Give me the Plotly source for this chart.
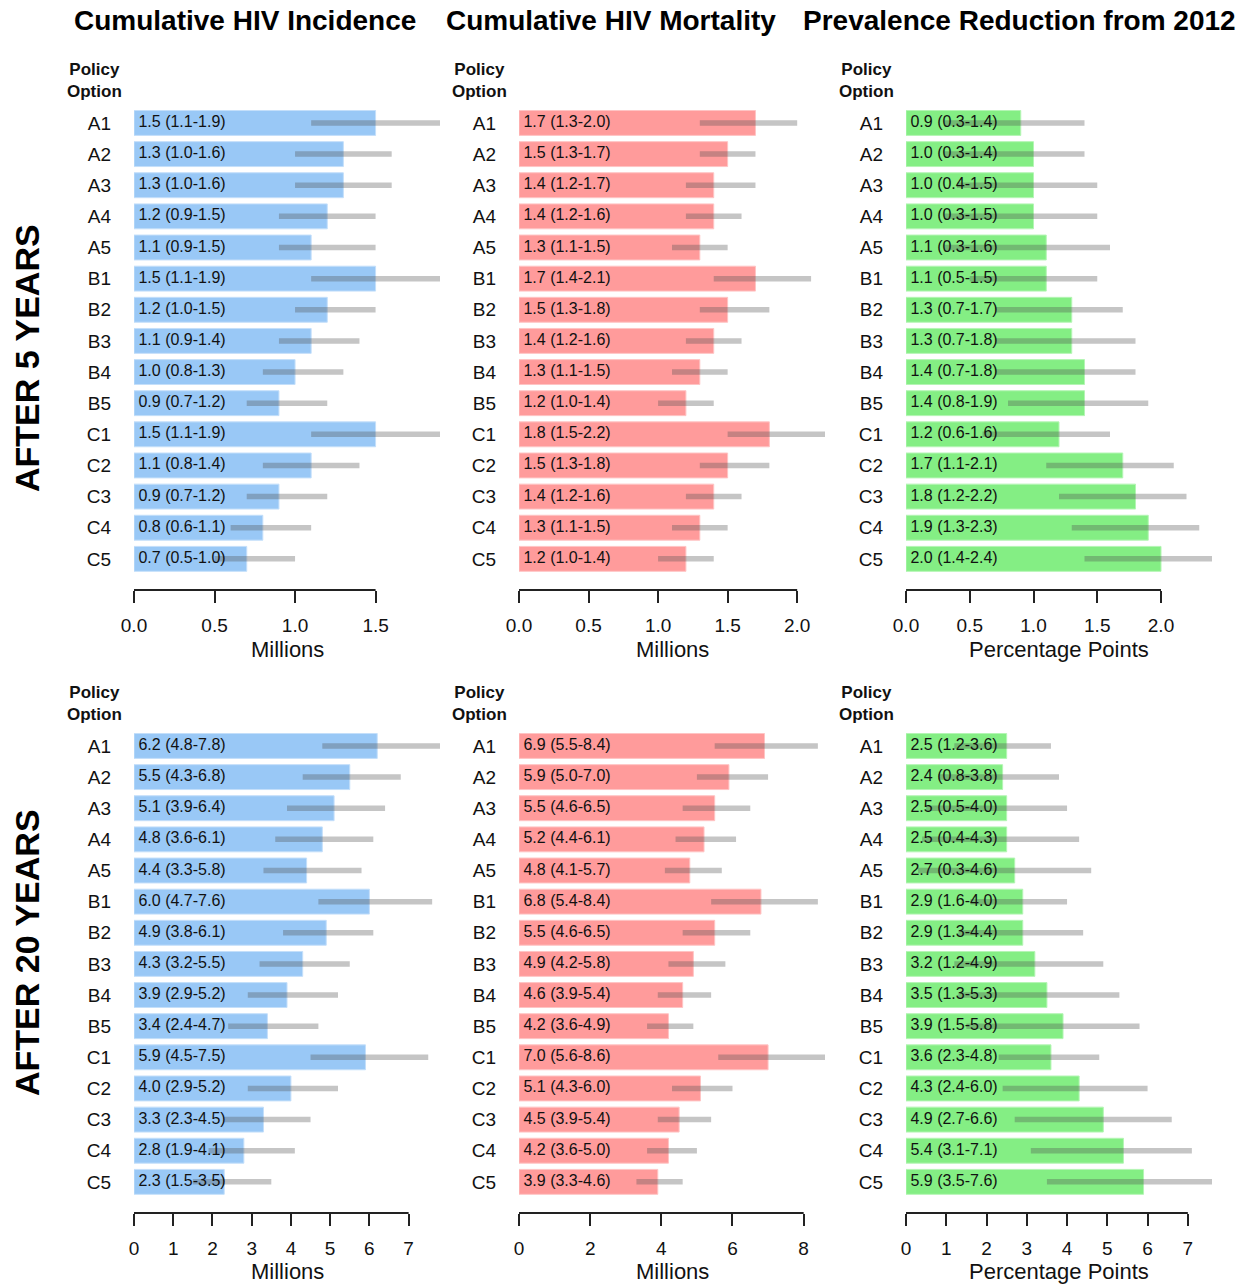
import plotly.graph_objects as go

W, H = 1250, 1284

options = ["A1", "A2", "A3", "A4", "A5", "B1", "B2", "B3", "B4", "B5",
           "C1", "C2", "C3", "C4", "C5"]

# ---- after 5 years ----
inc5 = [1.5, 1.3, 1.3, 1.2, 1.1, 1.5, 1.2, 1.1, 1.0, 0.9, 1.5, 1.1, 0.9, 0.8, 0.7]
inc5_lo = [1.1, 1.0, 1.0, 0.9, 0.9, 1.1, 1.0, 0.9, 0.8, 0.7, 1.1, 0.8, 0.7, 0.6, 0.5]
inc5_hi = [1.9, 1.6, 1.6, 1.5, 1.5, 1.9, 1.5, 1.4, 1.3, 1.2, 1.9, 1.4, 1.2, 1.1, 1.0]

mort5 = [1.7, 1.5, 1.4, 1.4, 1.3, 1.7, 1.5, 1.4, 1.3, 1.2, 1.8, 1.5, 1.4, 1.3, 1.2]
mort5_lo = [1.3, 1.3, 1.2, 1.2, 1.1, 1.4, 1.3, 1.2, 1.1, 1.0, 1.5, 1.3, 1.2, 1.1, 1.0]
mort5_hi = [2.0, 1.7, 1.7, 1.6, 1.5, 2.1, 1.8, 1.6, 1.5, 1.4, 2.2, 1.8, 1.6, 1.5, 1.4]

prev5 = [0.9, 1.0, 1.0, 1.0, 1.1, 1.1, 1.3, 1.3, 1.4, 1.4, 1.2, 1.7, 1.8, 1.9, 2.0]
prev5_lo = [0.3, 0.3, 0.4, 0.3, 0.3, 0.5, 0.7, 0.7, 0.7, 0.8, 0.6, 1.1, 1.2, 1.3, 1.4]
prev5_hi = [1.4, 1.4, 1.5, 1.5, 1.6, 1.5, 1.7, 1.8, 1.8, 1.9, 1.6, 2.1, 2.2, 2.3, 2.4]

# ---- after 20 years ----
inc20 = [6.2, 5.5, 5.1, 4.8, 4.4, 6.0, 4.9, 4.3, 3.9, 3.4, 5.9, 4.0, 3.3, 2.8, 2.3]
inc20_lo = [4.8, 4.3, 3.9, 3.6, 3.3, 4.7, 3.8, 3.2, 2.9, 2.4, 4.5, 2.9, 2.3, 1.9, 1.5]
inc20_hi = [7.8, 6.8, 6.4, 6.1, 5.8, 7.6, 6.1, 5.5, 5.2, 4.7, 7.5, 5.2, 4.5, 4.1, 3.5]

mort20 = [6.9, 5.9, 5.5, 5.2, 4.8, 6.8, 5.5, 4.9, 4.6, 4.2, 7.0, 5.1, 4.5, 4.2, 3.9]
mort20_lo = [5.5, 5.0, 4.6, 4.4, 4.1, 5.4, 4.6, 4.2, 3.9, 3.6, 5.6, 4.3, 3.9, 3.6, 3.3]
mort20_hi = [8.4, 7.0, 6.5, 6.1, 5.7, 8.4, 6.5, 5.8, 5.4, 4.9, 8.6, 6.0, 5.4, 5.0, 4.6]

prev20 = [2.5, 2.4, 2.5, 2.5, 2.7, 2.9, 2.9, 3.2, 3.5, 3.9, 3.6, 4.3, 4.9, 5.4, 5.9]
prev20_lo = [1.2, 0.8, 0.5, 0.4, 0.3, 1.6, 1.3, 1.2, 1.3, 1.5, 2.3, 2.4, 2.7, 3.1, 3.5]
prev20_hi = [3.6, 3.8, 4.0, 4.3, 4.6, 4.0, 4.4, 4.9, 5.3, 5.8, 4.8, 6.0, 6.6, 7.1, 7.6]

column_titles = ["Cumulative HIV Incidence", "Cumulative HIV Mortality",
                 "Prevalence Reduction from 2012"]
row_titles = ["AFTER 5 YEARS", "AFTER 20 YEARS"]
unit_labels = ["Millions", "Millions", "Percentage Points"]

tick_sets = [
    [[0, 0.5, 1.0, 1.5], [0, 0.5, 1.0, 1.5, 2.0], [0, 0.5, 1.0, 1.5, 2.0]],
    [[0, 1, 2, 3, 4, 5, 6, 7], [0, 2, 4, 6, 8], [0, 1, 2, 3, 4, 5, 6, 7]],
]
tick_formats = [".1f", "d"]

panels = [
    [(inc5, inc5_lo, inc5_hi), (mort5, mort5_lo, mort5_hi), (prev5, prev5_lo, prev5_hi)],
    [(inc20, inc20_lo, inc20_hi), (mort20, mort20_lo, mort20_hi), (prev20, prev20_lo, prev20_hi)],
]

bar_colors = ["#99C8F6", "#FF9B9B", "#84EE84"]
bar_edges = ["#C4DFFA", "#FFC4C4", "#B4F5B4"]
ci_color = "rgba(80,80,80,0.33)"

FONT = "Liberation Sans, Arial, sans-serif"
TXT = "#111111"


def fx(p):
    return p / W


def fy(p):
    return 1 - p / H


col_x0 = [134, 519, 906]
panel_w = 306
row_top = [107.4, 730.4]
row_bot = [590.0, 1213.0]

fig = go.Figure()
layout = {}
shapes = []
annotations = []

k = 0
for r in range(2):
    for c in range(3):
        k += 1
        sfx = "" if k == 1 else str(k)
        xa, ya = "x" + sfx, "y" + sfx
        vals, lo, hi = panels[r][c]
        xmax = max(hi)

        fig.add_trace(go.Bar(
            x=vals, y=options, orientation="h", width=0.8,
            marker=dict(color=bar_colors[c], line=dict(color=bar_edges[c], width=1)),
            xaxis=xa, yaxis=ya, showlegend=False, hoverinfo="skip",
        ))

        cx, cy = [], []
        for o, a, b in zip(options, lo, hi):
            cx += [a, b, None]
            cy += [o, o, None]
        fig.add_trace(go.Scatter(
            x=cx, y=cy, mode="lines", line=dict(color=ci_color, width=5.5),
            xaxis=xa, yaxis=ya, showlegend=False, hoverinfo="skip",
        ))

        labels = [f" {v:.1f} ({a:.1f}-{b:.1f})" for v, a, b in zip(vals, lo, hi)]
        fig.add_trace(go.Scatter(
            x=[0] * len(options), y=options, mode="text", text=labels,
            textposition="middle right",
            textfont=dict(family=FONT, size=16, color=TXT),
            xaxis=xa, yaxis=ya, showlegend=False, hoverinfo="skip",
        ))

        ticks = tick_sets[r][c]
        layout["xaxis" + sfx] = dict(
            domain=[fx(col_x0[c]), fx(col_x0[c] + panel_w)],
            range=[0, xmax], anchor=ya, automargin=False,
            showgrid=False, zeroline=False, showline=False,
            tickmode="array", tickvals=ticks, tickformat=tick_formats[r],
            ticks="outside", ticklen=12, tickwidth=1.8, tickcolor="#222",
            ticklabelstandoff=6,
            tickfont=dict(family=FONT, size=19, color=TXT),
        )
        layout["yaxis" + sfx] = dict(
            domain=[fy(row_bot[r]), fy(row_top[r])],
            type="category", categoryorder="array", categoryarray=options,
            range=[15.0, -0.5], anchor=xa, automargin=False,
            showgrid=False, zeroline=False, showline=False, ticks="",
            ticklabelstandoff=22,
            tickfont=dict(family=FONT, size=19, color=TXT),
        )

        # axis line spanning only the labelled ticks
        shapes.append(dict(
            type="line", xref=xa, yref=ya + " domain",
            x0=0, x1=ticks[-1], y0=0, y1=0,
            line=dict(color="#222", width=1.8),
        ))

        annotations.append(dict(
            text=unit_labels[c], x=fx(col_x0[c] + panel_w / 2),
            y=fy(649 if r == 0 else 1271), xref="paper", yref="paper",
            xanchor="center", yanchor="middle", showarrow=False,
            font=dict(family=FONT, size=22, color=TXT),
        ))
        annotations.append(dict(
            text="<b>Policy<br>Option</b>", x=fx(col_x0[c] - 40),
            y=fy(81 if r == 0 else 704), xref="paper", yref="paper",
            xanchor="center", yanchor="middle", showarrow=False,
            font=dict(family=FONT, size=17, color=TXT),
        ))

title_x = [245, 611, 1019]
for c, t in enumerate(column_titles):
    annotations.append(dict(
        text=f"<b>{t}</b>", x=fx(title_x[c]), y=fy(21),
        xref="paper", yref="paper", xanchor="center", yanchor="middle",
        showarrow=False, font=dict(family=FONT, size=28, color="#000"),
    ))

row_title_y = [358, 953]
for r, t in enumerate(row_titles):
    annotations.append(dict(
        text=f"<b>{t}</b>", x=fx(27), y=fy(row_title_y[r]),
        xref="paper", yref="paper", xanchor="center", yanchor="middle",
        textangle=-90, showarrow=False,
        font=dict(family=FONT, size=34, color="#000"),
    ))

fig.update_layout(
    width=W, height=H,
    margin=dict(l=0, r=0, t=0, b=0, autoexpand=False),
    paper_bgcolor="white", plot_bgcolor="white",
    font=dict(family=FONT, color=TXT),
    bargap=0.2,
    shapes=shapes, annotations=annotations,
    **layout,
)

fig.write_html("out.html")
